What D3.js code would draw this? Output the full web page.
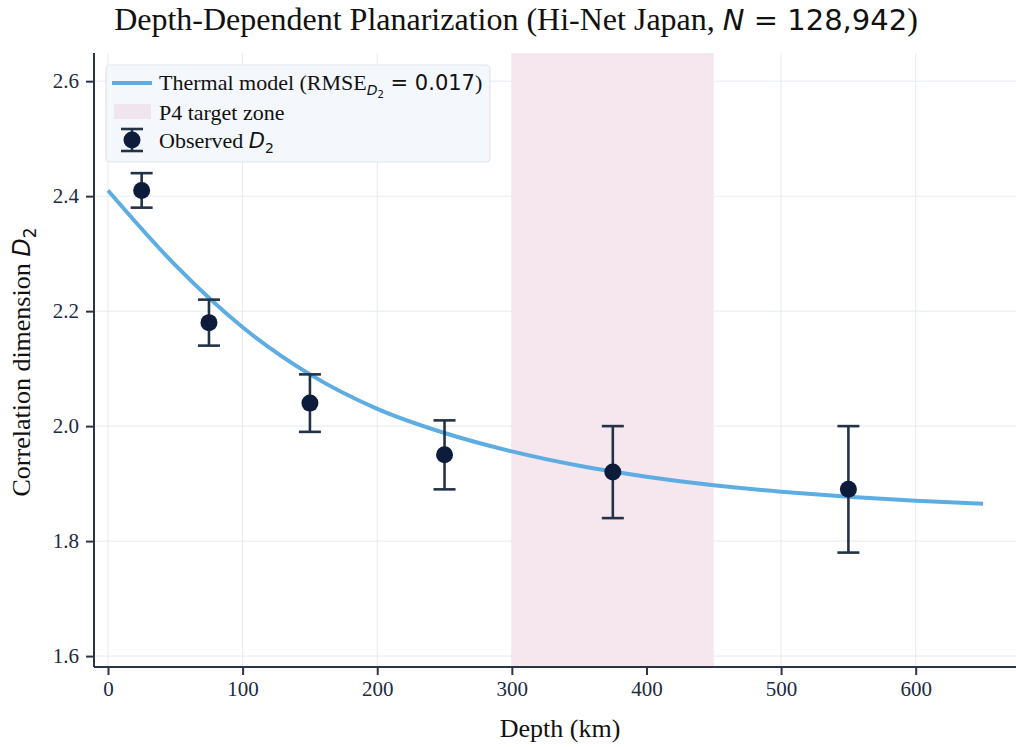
<!DOCTYPE html>
<html>
<head>
<meta charset="utf-8">
<script src="https://cdn.jsdelivr.net/npm/d3@7"></script>
<style>
  body { margin: 0; background: #fff; }
  svg { display: block; }
</style>
</head>
<body>
<div id="chart"></div>
<script>
// observed points
const depths = [25, 75, 150, 250, 375, 550];
const d2Values = [2.41, 2.18, 2.04, 1.95, 1.92, 1.89];
const d2Errors = [0.03, 0.04, 0.05, 0.06, 0.08, 0.11];

// thermal model curve
const modelDepths = [0, 50, 100, 150, 200, 250, 300, 350, 400, 450, 500, 550, 600, 650];
const modelValues = [2.41, 2.28, 2.172, 2.09, 2.03, 1.988, 1.956, 1.931, 1.912, 1.897, 1.886, 1.877, 1.87, 1.865];

const zoneRange = [300, 450];
const xTicks = [0, 100, 200, 300, 400, 500, 600];
const yTicks = [1.6, 1.8, 2.0, 2.2, 2.4, 2.6];

const W = 1016, H = 747;
const serif = '"Liberation Serif", "Times New Roman", serif';
const mathFont = '"DejaVu Sans", sans-serif';
const ink = '#1c2a44';

const svg = d3.select('#chart').append('svg')
  .attr('width', W).attr('height', H)
  .attr('viewBox', `0 0 ${W} ${H}`);

const x = d3.scaleLinear().domain([-10.4, 674.5]).range([94, 1016]);
const y = d3.scaleLinear().domain([1.581, 2.649]).range([667, 53]);

// grid
svg.append('g').selectAll('line').data(xTicks).join('line')
  .attr('x1', d => x(d)).attr('x2', d => x(d))
  .attr('y1', y.range()[1]).attr('y2', y.range()[0])
  .attr('stroke', '#e6eaf1').attr('stroke-width', 1);
svg.append('g').selectAll('line').data(yTicks).join('line')
  .attr('x1', x.range()[0]).attr('x2', x.range()[1])
  .attr('y1', d => y(d)).attr('y2', d => y(d))
  .attr('stroke', '#e6eaf1').attr('stroke-width', 1);

// target zone
svg.append('rect')
  .attr('x', x(zoneRange[0])).attr('width', x(zoneRange[1]) - x(zoneRange[0]))
  .attr('y', y.range()[1]).attr('height', y.range()[0] - y.range()[1])
  .attr('fill', '#f6e6ee');

// model curve
const line = d3.line()
  .x((d, i) => x(modelDepths[i]))
  .y(d => y(d))
  .curve(d3.curveMonotoneX);
svg.append('path')
  .datum(modelValues)
  .attr('d', line)
  .attr('fill', 'none')
  .attr('stroke', '#5dade2')
  .attr('stroke-width', 4);

// error bars
const pts = depths.map((d, i) => ({ x: d, y: d2Values[i], e: d2Errors[i] }));
const eb = svg.append('g').attr('stroke', '#243247').attr('stroke-width', 2.6);
eb.selectAll('.stem').data(pts).join('line')
  .attr('x1', d => x(d.x)).attr('x2', d => x(d.x))
  .attr('y1', d => y(d.y - d.e)).attr('y2', d => y(d.y + d.e));
eb.selectAll('.capT').data(pts).join('line')
  .attr('x1', d => x(d.x) - 11).attr('x2', d => x(d.x) + 11)
  .attr('y1', d => y(d.y + d.e)).attr('y2', d => y(d.y + d.e));
eb.selectAll('.capB').data(pts).join('line')
  .attr('x1', d => x(d.x) - 11).attr('x2', d => x(d.x) + 11)
  .attr('y1', d => y(d.y - d.e)).attr('y2', d => y(d.y - d.e));
svg.append('g').selectAll('circle').data(pts).join('circle')
  .attr('cx', d => x(d.x)).attr('cy', d => y(d.y)).attr('r', 8.5)
  .attr('fill', '#0c1c3a');

// axes (left + bottom spines only)
const xAxis = svg.append('g').attr('transform', `translate(0,${y.range()[0]})`)
  .call(d3.axisBottom(x).tickValues(xTicks).tickSize(8).tickPadding(6).tickFormat(d3.format('d')));
const yAxis = svg.append('g').attr('transform', `translate(${x.range()[0]},0)`)
  .call(d3.axisLeft(y).tickValues(yTicks).tickSize(8).tickPadding(7).tickFormat(d3.format('.1f')));
[xAxis, yAxis].forEach(g => {
  g.select('.domain').attr('stroke', '#2b3547').attr('stroke-width', 2);
  g.selectAll('.tick line').attr('stroke', '#2b3547').attr('stroke-width', 2);
  g.selectAll('.tick text').attr('fill', ink)
    .style('font-family', serif).style('font-size', '21px');
});
xAxis.select('.domain').attr('d', `M${x.range()[0]},0H${x.range()[1]}`);
yAxis.select('.domain').attr('d', `M0,${y.range()[0]}V${y.range()[1]}`);

// title
const title = svg.append('text')
  .attr('x', 516).attr('y', 30).attr('text-anchor', 'middle')
  .attr('fill', '#111').style('font-family', serif).style('font-size', '32px');
title.append('tspan').text('Depth-Dependent Planarization (Hi-Net Japan, ');
title.append('tspan').style('font-family', mathFont).style('font-style', 'italic').style('font-size', '29px').text('N');
title.append('tspan').style('font-family', mathFont).style('font-size', '29px').text(' = 128,942');
title.append('tspan').text(')');

// axis labels
svg.append('text')
  .attr('x', 560).attr('y', 737).attr('text-anchor', 'middle')
  .attr('fill', '#111').style('font-family', serif).style('font-size', '26px')
  .text('Depth (km)');
const yl = svg.append('text')
  .attr('transform', 'translate(30,362) rotate(-90)')
  .attr('text-anchor', 'middle')
  .attr('fill', '#111').style('font-family', serif).style('font-size', '26px');
yl.append('tspan').text('Correlation dimension ');
yl.append('tspan').style('font-family', mathFont).style('font-style', 'italic').style('font-size', '24px').text('D');
yl.append('tspan').style('font-family', mathFont).style('font-size', '17px').attr('dy', 6).text('2');

// legend
const lg = svg.append('g');
lg.append('rect')
  .attr('x', 106).attr('y', 65).attr('width', 384).attr('height', 97).attr('rx', 4)
  .attr('fill', '#f3f8fc').attr('fill-opacity', 0.95)
  .attr('stroke', '#e0e5ec').attr('stroke-width', 1.2);
lg.append('line').attr('x1', 112).attr('x2', 152).attr('y1', 83).attr('y2', 83)
  .attr('stroke', '#5dade2').attr('stroke-width', 4);
lg.append('rect').attr('x', 114).attr('y', 104).attr('width', 37).attr('height', 15)
  .attr('fill', '#f0e4ee');
const lx = 132, ly = 140;
lg.append('line').attr('x1', lx).attr('x2', lx).attr('y1', ly - 11).attr('y2', ly + 11)
  .attr('stroke', '#243247').attr('stroke-width', 2.6);
lg.append('line').attr('x1', lx - 11).attr('x2', lx + 11).attr('y1', ly - 11).attr('y2', ly - 11)
  .attr('stroke', '#243247').attr('stroke-width', 2.6);
lg.append('line').attr('x1', lx - 11).attr('x2', lx + 11).attr('y1', ly + 11).attr('y2', ly + 11)
  .attr('stroke', '#243247').attr('stroke-width', 2.6);
lg.append('circle').attr('cx', lx).attr('cy', ly).attr('r', 8.5).attr('fill', '#0c1c3a');

const t1 = lg.append('text').attr('x', 159).attr('y', 90)
  .attr('fill', '#111').style('font-family', serif).style('font-size', '22px');
t1.append('tspan').text('Thermal model (RMSE');
t1.append('tspan').style('font-family', mathFont).style('font-style', 'italic').style('font-size', '14px').attr('dy', 5).text('D');
t1.append('tspan').style('font-family', mathFont).style('font-size', '10px').attr('dy', 3).text('2');
t1.append('tspan').style('font-family', mathFont).style('font-size', '21px').attr('dy', -8).text(' = 0.017');
t1.append('tspan').text(')');
lg.append('text').attr('x', 159).attr('y', 120)
  .attr('fill', '#111').style('font-family', serif).style('font-size', '22px')
  .text('P4 target zone');
const t3 = lg.append('text').attr('x', 159).attr('y', 148)
  .attr('fill', '#111').style('font-family', serif).style('font-size', '22px');
t3.append('tspan').text('Observed ');
t3.append('tspan').style('font-family', mathFont).style('font-style', 'italic').style('font-size', '21px').text('D');
t3.append('tspan').style('font-family', mathFont).style('font-size', '14px').attr('dy', 5).text('2');
</script>
</body>
</html>
